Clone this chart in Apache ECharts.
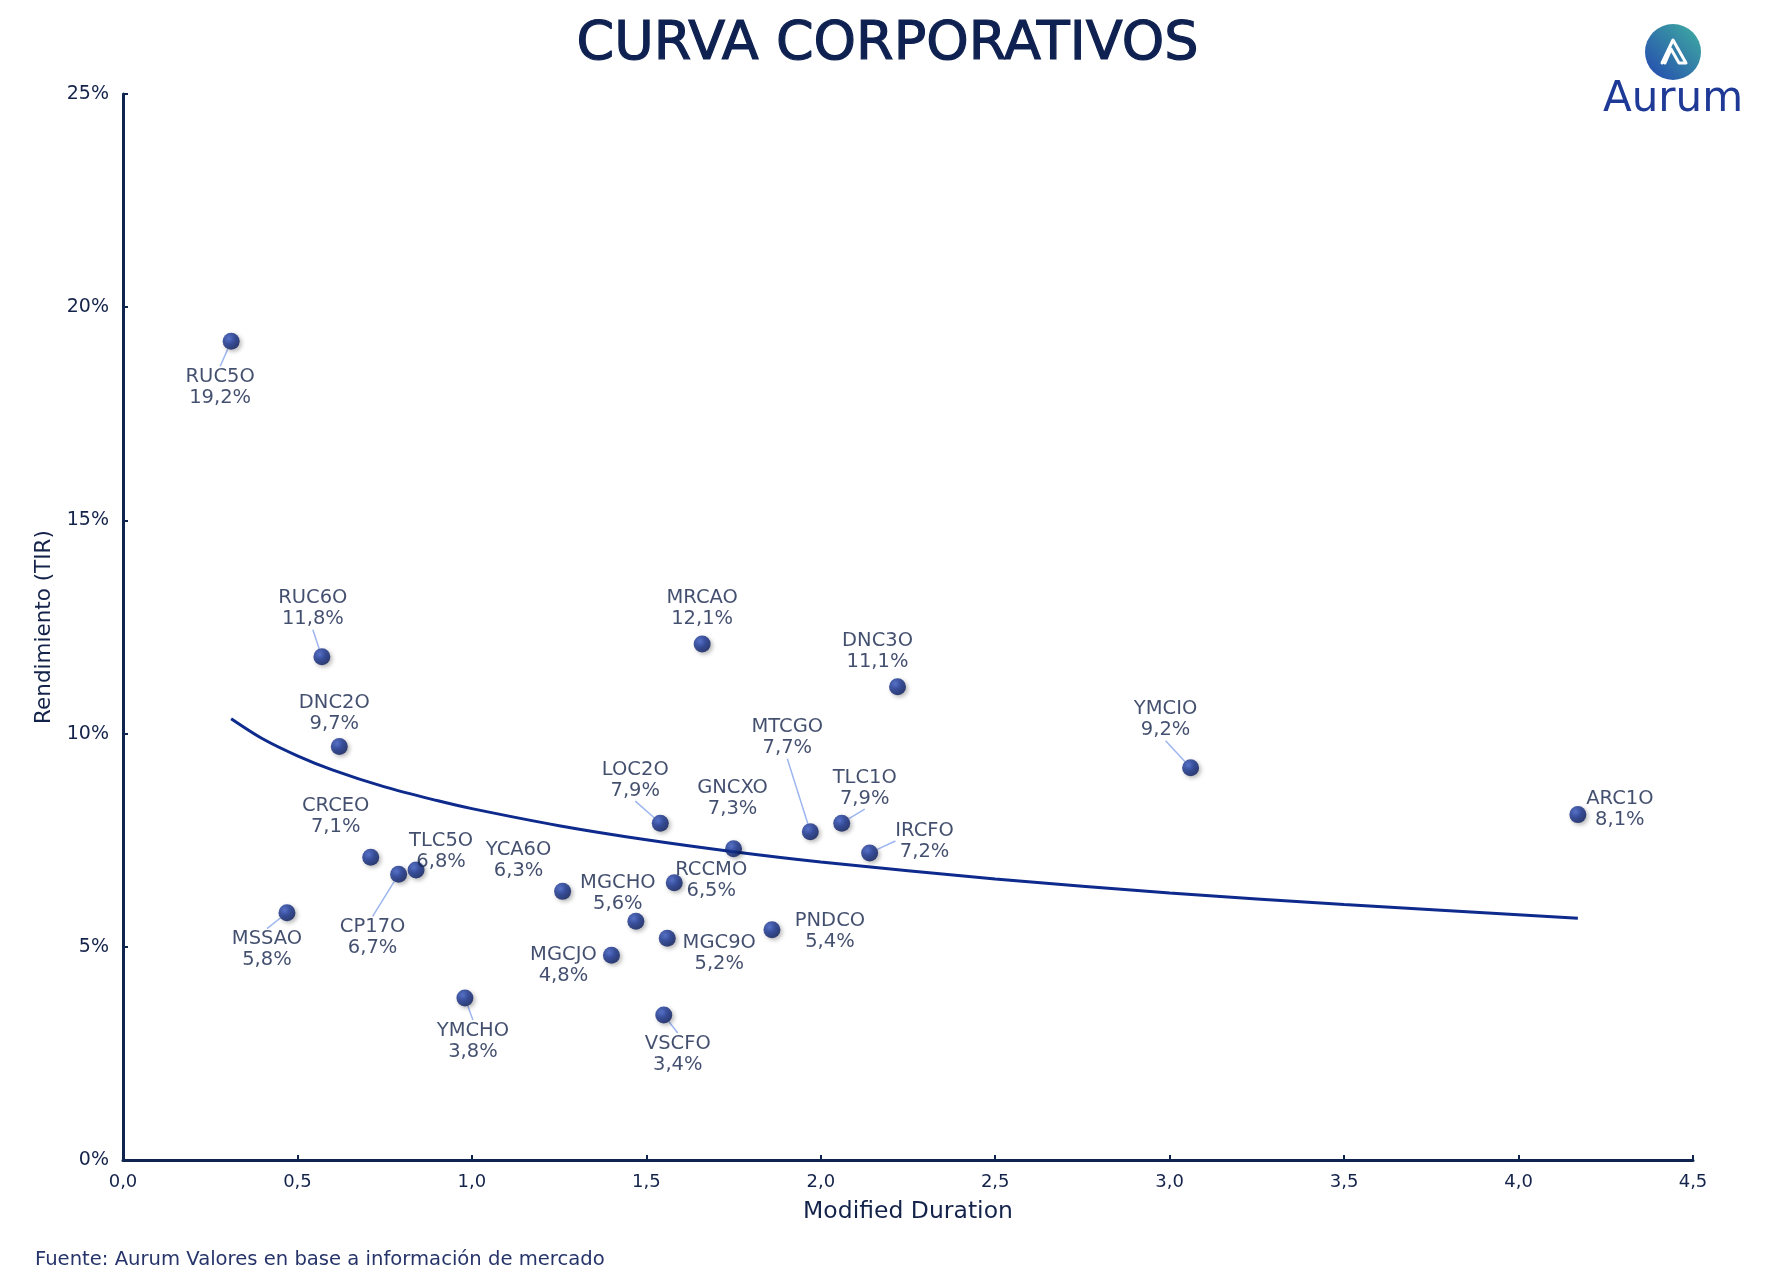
<!DOCTYPE html>
<html>
<head>
<meta charset="utf-8">
<script src="https://cdn.jsdelivr.net/npm/echarts@6/dist/echarts.min.js"></script>
<style>
  html, body { margin: 0; padding: 0; background: #fff; }
  #chart { width: 1775px; height: 1287px; }
</style>
</head>
<body>
<div id="chart"></div>
<script>
// bonds: ticker, modified duration, yield (TIR %)
const names = ['RUC5O', 'RUC6O', 'DNC2O', 'CRCEO', 'CP17O', 'TLC5O', 'MSSAO', 'YMCHO',
  'YCA6O', 'MGCJO', 'MGCHO', 'VSCFO', 'MGC9O', 'RCCMO', 'LOC2O', 'GNCXO', 'MRCAO',
  'PNDCO', 'MTCGO', 'TLC1O', 'IRCFO', 'DNC3O', 'YMCIO', 'ARC1O'];
const duration = [0.31, 0.57, 0.62, 0.71, 0.79, 0.84, 0.47, 0.98,
  1.26, 1.40, 1.47, 1.55, 1.56, 1.58, 1.54, 1.75, 1.66,
  1.86, 1.97, 2.06, 2.14, 2.22, 3.06, 4.17];
const yields = [19.2, 11.8, 9.7, 7.1, 6.7, 6.8, 5.8, 3.8,
  6.3, 4.8, 5.6, 3.4, 5.2, 6.5, 7.9, 7.3, 12.1,
  5.4, 7.7, 7.9, 7.2, 11.1, 9.2, 8.1];

// trend curve
const trendX = [0.31, 0.4, 0.5, 0.6, 0.75, 0.9, 1.0, 1.25, 1.5, 1.75, 2.0, 2.5, 3.0, 3.5, 4.17];
const trendY = [10.35, 9.88, 9.48, 9.15, 8.75, 8.43, 8.24, 7.84, 7.51, 7.23, 6.99, 6.59, 6.26, 5.99, 5.67];

// label placement (px from point centre) and whether a guide line is drawn
const labelOffsets = [[-11, 46], [-9, -48], [-5, -33], [-35, -41], [-26, 63], [25, -19], [-20, 37], [8, 43],
  [-44, -31], [-48, 10], [-18, -28], [14, 39], [52, 15], [37, -2], [-25, -43], [-1, -50], [0, -36],
  [58, 2], [-23, -94], [23, -35], [55, -12], [-20, -35], [-25, -48], [42, -5]];
const withLine = ['RUC5O', 'RUC6O', 'CP17O', 'MSSAO', 'YMCHO', 'VSCFO', 'LOC2O', 'MTCGO', 'TLC1O', 'IRCFO', 'YMCIO'];

const font = 'DejaVu Sans';
const navy = '#14234a';
const fmt = v => v.toFixed(1).replace('.', ',');

const chart = echarts.init(document.getElementById('chart'));

const points = names.map((n, i) => ({
  name: n,
  value: [duration[i], yields[i]],
  labelLine: { show: withLine.includes(n) }
}));

const sphere = new echarts.graphic.RadialGradient(0.38, 0.35, 0.7, [
  { offset: 0, color: '#3a5cc8' },
  { offset: 0.45, color: '#15318f' },
  { offset: 1, color: '#071858' }
]);

chart.setOption({
  animation: false,
  textStyle: { fontFamily: font },
  title: {
    text: 'CURVA CORPORATIVOS',
    left: 'center',
    top: 13,
    textStyle: {
      fontSize: 54, fontWeight: 'normal', color: '#0e2150', fontFamily: font,
      textBorderColor: '#0e2150', textBorderWidth: 1.2
    }
  },
  grid: { left: 123, right: 82, top: 94, bottom: 127 },
  xAxis: {
    type: 'value',
    min: 0, max: 4.5, interval: 0.5,
    name: 'Modified Duration',
    nameLocation: 'middle',
    nameGap: 40,
    nameTextStyle: { fontSize: 23.5, color: navy },
    axisLine: { show: true, lineStyle: { color: '#0f2550', width: 3 } },
    axisTick: { show: true, inside: true, length: 5, lineStyle: { color: '#0f2550', width: 2 } },
    axisLabel: { fontSize: 18, color: navy, margin: 13, formatter: fmt },
    splitLine: { show: false }
  },
  yAxis: {
    type: 'value',
    min: 0, max: 25, interval: 5,
    name: 'Rendimiento (TIR)',
    nameLocation: 'middle',
    nameGap: 66,
    nameTextStyle: { fontSize: 21.5, color: navy },
    axisLine: { show: true, lineStyle: { color: '#0f2550', width: 3 } },
    axisTick: { show: true, inside: true, length: 5, lineStyle: { color: '#0f2550', width: 2 } },
    axisLabel: { fontSize: 19, color: navy, margin: 14, formatter: v => v + '%' },
    splitLine: { show: false }
  },
  series: [
    {
      type: 'line',
      data: trendX.map((x, i) => [x, trendY[i]]),
      smooth: 0.3,
      showSymbol: false,
      lineStyle: { color: '#0d2a8c', width: 3 },
      z: 2
    },
    {
      type: 'scatter',
      data: points,
      symbolSize: 17,
      itemStyle: {
        color: sphere,
        shadowBlur: 4,
        shadowOffsetX: 2,
        shadowOffsetY: 2,
        shadowColor: 'rgba(0,0,0,0.35)'
      },
      label: {
        show: true,
        position: 'inside',
        color: navy,
        fontSize: 19.5,
        lineHeight: 21,
        formatter: p => p.name + '\n' + fmt(p.value[1]) + '%'
      },
      labelLine: { show: true, lineStyle: { color: '#9db6ef', width: 1.5 } },
      labelLayout: function (p) {
        const o = labelOffsets[p.dataIndex];
        return {
          x: p.rect.x + p.rect.width / 2 + o[0],
          y: p.rect.y + p.rect.height / 2 + o[1],
          align: 'center',
          verticalAlign: 'middle'
        };
      },
      z: 3
    }
  ],
  graphic: [
    {
      type: 'text',
      left: 35,
      top: 1250,
      style: { text: 'Fuente: Aurum Valores en base a información de mercado', fill: '#26346a', fontSize: 19.6, fontFamily: font }
    },
    {
      type: 'circle',
      shape: { cx: 1673, cy: 52, r: 28 },
      style: {
        fill: new echarts.graphic.LinearGradient(1, 0, 0, 1, [
          { offset: 0, color: '#3fb0a0' },
          { offset: 1, color: '#2446b0' }
        ])
      }
    },
    {
      type: 'polyline',
      shape: { points: [[1662, 63], [1673, 40], [1686, 63], [1679, 63], [1671, 49], [1665, 63]] },
      style: { stroke: '#fff', lineWidth: 3, fill: null, lineJoin: 'round', lineCap: 'round' }
    },
    {
      type: 'text',
      x: 1673,
      y: 100,
      style: {
        text: 'Aurum', fill: '#1e3a96', fontSize: 42, fontFamily: font,
        align: 'center', verticalAlign: 'middle'
      }
    }
  ]
});
</script>
</body>
</html>
